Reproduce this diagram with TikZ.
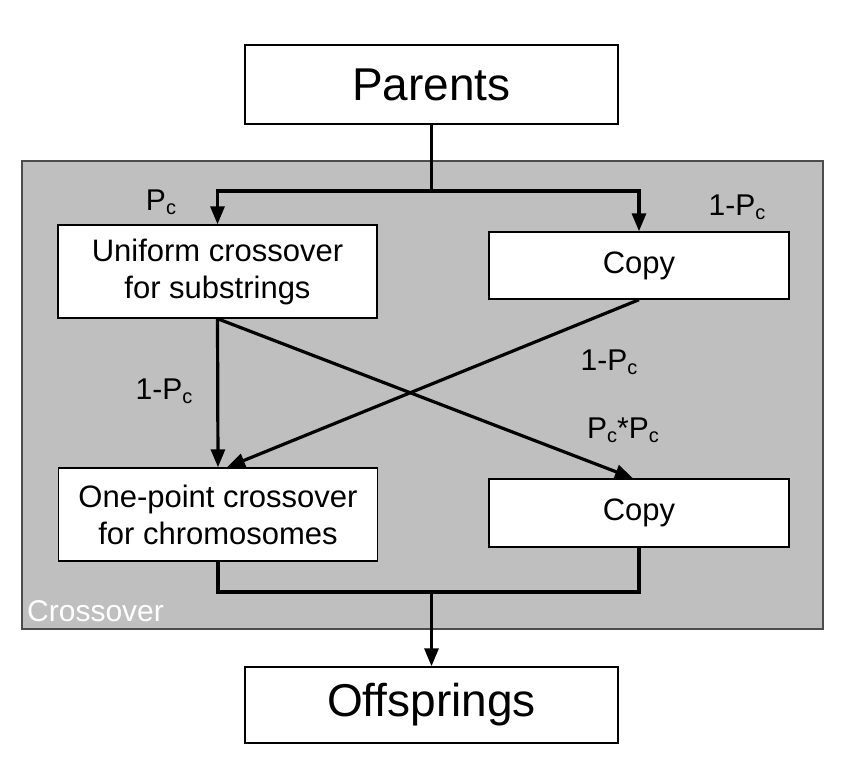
\documentclass[tikz,border=0pt]{standalone}
\usepackage{fontspec}
\setmainfont{Liberation Sans}
\usetikzlibrary{arrows.meta}
\newcommand{\Psub}{P\raisebox{-4pt}{\fontsize{20}{20}\selectfont c}}

\begin{document}
\begin{tikzpicture}[x=1pt, y=-1pt,
  box/.style={draw, line width=1.4pt, fill=white, align=center, inner sep=0pt, font=\fontsize{31}{37}\selectfont},
  flow/.style={line width=3.2pt},
  arr/.style={flow, -{Triangle[length=18pt,width=14pt]}},
  lbl/.style={font=\fontsize{30}{34}\selectfont}]
		\useasboundingbox (0,0) rectangle (846,768);
		% crossover region
		\node[draw=black!70, line width=1.2pt, fill=black!25, minimum width=801pt, minimum height=468pt, inner sep=0pt] (crossbox) at (422.5,395) {};
		\node[anchor=base west, text=white, inner sep=0pt, font=\fontsize{30}{34}\selectfont] (crosslabel) at (27,621) {Crossover};
		% boxes
		\node[box, minimum width=373pt, minimum height=79pt, font=\fontsize{46}{50}\selectfont] (parents) at (431.5,84.5) {Parents};
		\node[box, minimum width=319pt, minimum height=93pt] (uniform) at (217.5,271.5) {Uniform crossover\\for substrings};
		\node[box, minimum width=300pt, minimum height=67pt] (copytop) at (639,265.5) {Copy};
		\node[box, minimum width=319pt, minimum height=93pt] (onepoint) at (218,514.5) {One-point crossover\\for chromosomes};
		\node[box, minimum width=300pt, minimum height=68pt] (copybot) at (639,513) {Copy};
		\node[box, minimum width=373pt, minimum height=76pt, font=\fontsize{46}{50}\selectfont] (offsprings) at (431.5,705) {Offsprings};
		% connectors
		\coordinate (split) at (parents.south |- 0,191);
		\coordinate (merge) at (offsprings.north |- 0,592);
		\draw[flow] (parents.south) -- (split);
		\draw[arr] (split) -| (uniform.north);
		\draw[arr] (split) -| (copytop.north);
		\draw[arr] (uniform.south) -- (onepoint.north);
		\draw[arr] (uniform.south) -- ([xshift=-6pt]copybot.north);
		\draw[arr] (copytop.south) -- ([xshift=9pt]onepoint.north);
		\draw[flow] (onepoint.south) |- (merge);
		\draw[flow] (copybot.south) |- (merge);
		\draw[arr] (merge) -- (offsprings.north);
		% probabilities
		\node[lbl] (pc1) at (161,202) {\Psub};
		\node[lbl] (pc2) at (737,207) {1-\Psub};
		\node[lbl] (pc3) at (164,391) {1-\Psub};
		\node[lbl] (pc4) at (609,362) {1-\Psub};
		\node[lbl] (pc5) at (623,430) {\Psub*\Psub};
\end{tikzpicture}
\end{document}
